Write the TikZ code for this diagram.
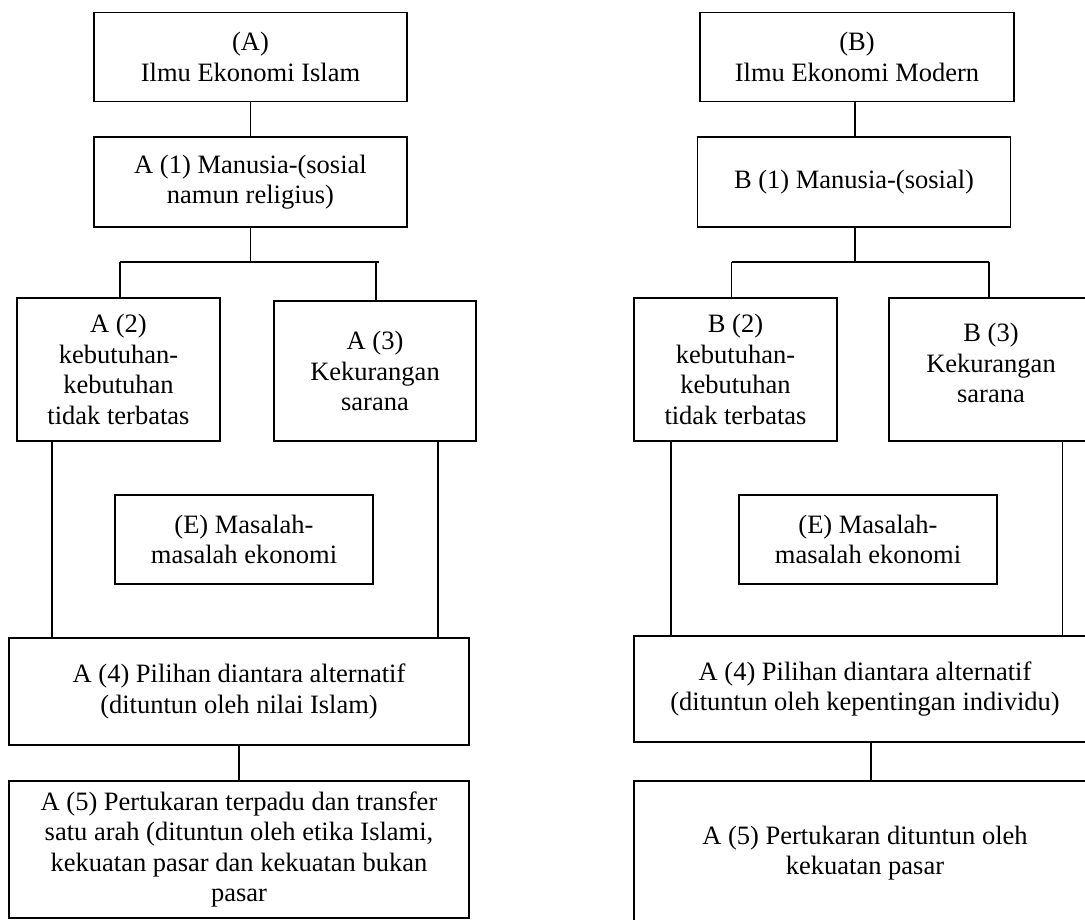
\documentclass[tikz,border=0pt]{standalone}
\usepackage{fontspec}
\setmainfont{Liberation Serif}
\begin{document}
\begin{tikzpicture}[x=1pt,y=-1pt,
  box/.style={draw=black, line width=1.3pt, rectangle, inner sep=0pt, align=center,
    font=\fontsize{26.5}{30.5}\selectfont},
  conn/.style={draw=black, line width=1.3pt}]
\useasboundingbox (0,0) rectangle (1085,919);
\clip (0,0) rectangle (1085,919);
\fill[white] (0,0) rectangle (1085,919);
% Left column
\node[box, minimum width=313pt, minimum height=89pt] (A) at (250.5,57) {(A)\\Ilmu Ekonomi Islam};
\node[box, minimum width=313pt, minimum height=90pt] (A1) at (250.5,182) {A (1) Manusia-(sosial\\namun religius)};
\node[box, minimum width=203pt, minimum height=143pt] (A2) at (118.5,369.5) {A (2)\\kebutuhan-\\kebutuhan\\tidak terbatas};
\node[box, minimum width=202pt, minimum height=140pt] (A3) at (375,371) {A (3)\\Kekurangan\\sarana};
\node[box, minimum width=258pt, minimum height=89pt] (EA) at (244,539.5) {(E) Masalah-\\masalah ekonomi};
\node[box, minimum width=460pt, minimum height=107pt] (A4) at (239,691.5) {A (4) Pilihan diantara alternatif\\(dituntun oleh nilai Islam)};
\node[box, minimum width=460pt, minimum height=137pt] (A5) at (239,849.5) {A (5) Pertukaran terpadu dan transfer\\satu arah (dituntun oleh etika Islami,\\kekuatan pasar dan kekuatan bukan\\pasar};
% Right column
\node[box, minimum width=314pt, minimum height=89pt] (B) at (857,57) {(B)\\Ilmu Ekonomi Modern};
\node[box, minimum width=313.5pt, minimum height=90pt] (B1) at (854,182) {B (1) Manusia-(sosial)};
\node[box, minimum width=203pt, minimum height=143pt] (B2) at (735.5,369.5) {B (2)\\kebutuhan-\\kebutuhan\\tidak terbatas};
\node[box, minimum width=204pt, minimum height=143pt] (B3) at (991,369.5) {B (3)\\Kekurangan\\sarana\\[-17.5pt]};
\node[box, minimum width=258pt, minimum height=89pt] (EB) at (868,539.5) {(E) Masalah-\\masalah ekonomi};
\node[box, minimum width=462pt, minimum height=106pt] (B4) at (865,689) {A (4) Pilihan diantara alternatif\\(dituntun oleh kepentingan individu)};
\node[box, minimum width=462pt, minimum height=144pt] (B5) at (865,853) {A (5) Pertukaran dituntun oleh\\kekuatan pasar};
% Left connectors
\coordinate (busAL) at (120,262);
\coordinate (busAR) at (379,262);
\coordinate (dA3) at (376,263);
\coordinate (lA) at (52,0);
\coordinate (rA) at (438,0);
\draw[conn] (A) -- (A1);
\draw[conn] (A1.south) -- (A1.south |- busAL);
\draw[conn] (busAL) -- (busAR);
\draw[conn] (busAL) -- (busAL |- A2.north);
\draw[conn] (dA3) -- (dA3 |- A3.north);
\draw[conn] (A2.south -| lA) -- (A4.north -| lA);
\draw[conn] (A3.south -| rA) -- (A4.north -| rA);
\draw[conn] (A4) -- (A5);
% Right connectors
\coordinate (busBL) at (731.6,262);
\coordinate (busBR) at (989,262);
\coordinate (cB1) at (855,0);
\coordinate (lB) at (671,0);
\coordinate (rB) at (1062.6,0);
\coordinate (cB) at (871,0);
\draw[conn] (B.south -| cB1) -- (B1.north -| cB1);
\draw[conn] (B1.south -| cB1) -- (busBL -| cB1);
\draw[conn] (busBL) -- (busBR);
\draw[conn] (busBL) -- (busBL |- B2.north);
\draw[conn] (busBR) -- (busBR |- B3.north);
\draw[conn] (B2.south -| lB) -- (B4.north -| lB);
\draw[conn] (B3.south -| rB) -- (B4.north -| rB);
\draw[conn] (B4.south -| cB) -- (B5.north -| cB);
\end{tikzpicture}
\end{document}
